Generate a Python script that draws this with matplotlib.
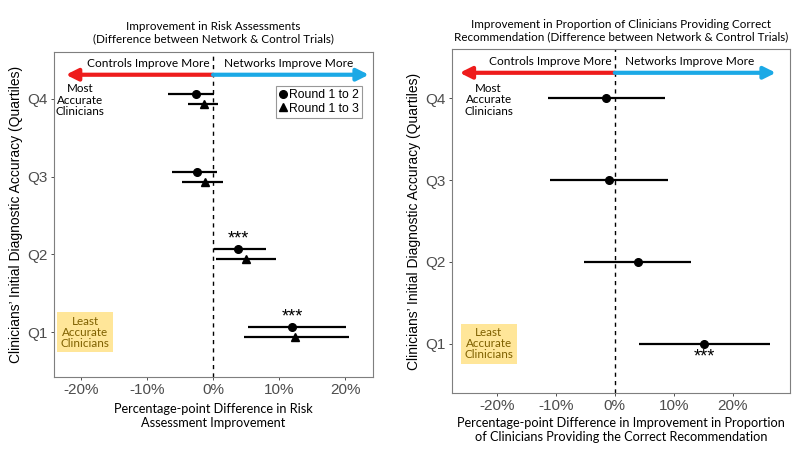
import numpy as np
import matplotlib
matplotlib.use("Agg")
import matplotlib.pyplot as plt

# --- data ---
quartiles = [1, 2, 3, 4]
q_labels = ["Q1", "Q2", "Q3", "Q4"]

# left panel: risk assessments (percentage points)
risk_r12 = [12.0, 3.8, -2.4, -2.6]
risk_r12_lo = [5.3, 0.1, -6.2, -6.8]
risk_r12_hi = [20.1, 8.0, 0.6, 0.2]
risk_r13 = [12.4, 5.0, -1.2, -1.4]
risk_r13_lo = [4.7, 0.5, -4.7, -3.8]
risk_r13_hi = [20.6, 9.5, 1.5, 0.7]
risk_sig = [True, True, False, False]

# right panel: correct recommendation (percentage points)
rec_est = [15.1, 3.9, -1.0, -1.5]
rec_lo = [4.1, -5.3, -11.0, -11.4]
rec_hi = [26.3, 12.9, 9.0, 8.5]
rec_sig = [True, False, False, False]

x_ticks = [-20, -10, 0, 10, 20]

TXT = "Lato"
TICK = "Liberation Sans"
RED = "#EE1C1C"
BLUE = "#1BA9E6"
BOX = "#FFE699"
BOXTXT = "#7F6000"


def style_axis(ax, xlim, ylim):
    ax.set_xlim(*xlim)
    ax.set_ylim(*ylim)
    ax.set_yticks(quartiles)
    ax.set_yticklabels(q_labels)
    ax.set_xticks(x_ticks)
    ax.set_xticklabels([f"{t}%" for t in x_ticks])
    for lab in ax.get_xticklabels() + ax.get_yticklabels():
        lab.set_fontfamily(TICK)
        lab.set_fontsize(11)
        lab.set_color("#4D4D4D")
    ax.tick_params(axis="both", length=2.5, width=0.6, color="#333333", pad=2)
    for sp in ax.spines.values():
        sp.set_color("#7F7F7F")
        sp.set_linewidth(0.8)
    ax.axvline(0, color="black", linestyle=(0, (3, 3)), linewidth=1.0, zorder=1)
    ax.set_ylabel("Clinicians\u2019 Initial Diagnostic Accuracy (Quartiles)",
                  fontfamily=TICK, fontsize=10, labelpad=3)


def direction_arrows(ax, left_end, right_end, left_txt_x, right_txt_x):
    y = 4.31
    ax.annotate("", xy=(left_end, y), xytext=(0, y),
                arrowprops=dict(arrowstyle="-|>,head_length=0.7,head_width=0.35",
                                color=RED, lw=3, shrinkA=0, shrinkB=0))
    ax.annotate("", xy=(right_end, y), xytext=(0, y),
                arrowprops=dict(arrowstyle="-|>,head_length=0.7,head_width=0.35",
                                color=BLUE, lw=3, shrinkA=0, shrinkB=0))
    ax.text(left_txt_x, 4.45, "Controls Improve More", ha="center", va="center",
            fontfamily=TXT, fontsize=8.6)
    ax.text(right_txt_x, 4.45, "Networks Improve More", ha="center", va="center",
            fontfamily=TXT, fontsize=8.6)


def group_labels(ax, x_most, x_least):
    ax.text(x_most, 3.98, "Most\nAccurate\nClinicians", ha="center", va="center",
            fontfamily=TXT, fontsize=8.4, linespacing=1.05)
    ax.text(x_least, 1.0, "Least\nAccurate\nClinicians", ha="center", va="center",
            fontfamily=TXT, fontsize=8.4, linespacing=1.0, color=BOXTXT,
            bbox=dict(boxstyle="square,pad=0.3", facecolor=BOX, edgecolor="none"))


fig = plt.figure(figsize=(8, 4.5), dpi=100)
ax1 = fig.add_axes([0.0675, 0.162, 0.3985, 0.722])
ax2 = fig.add_axes([0.565, 0.127, 0.4225, 0.764])

# ---- left panel ----
style_axis(ax1, (-24.1, 24.2), (0.42, 4.6))
dodge = 0.065
y12 = np.array(quartiles) + dodge
y13 = np.array(quartiles) - dodge
e12 = [np.array(risk_r12) - np.array(risk_r12_lo), np.array(risk_r12_hi) - np.array(risk_r12)]
e13 = [np.array(risk_r13) - np.array(risk_r13_lo), np.array(risk_r13_hi) - np.array(risk_r13)]
ax1.errorbar(risk_r12, y12, xerr=e12, fmt="o", color="black", ms=5.5,
             elinewidth=1.6, capsize=0, label="Round 1 to 2", zorder=3)
ax1.errorbar(risk_r13, y13, xerr=e13, fmt="^", color="black", ms=6,
             elinewidth=1.6, capsize=0, label="Round 1 to 3", zorder=3)
for q, est, s in zip(quartiles, risk_r12, risk_sig):
    if s:
        ax1.text(est, q + dodge + 0.02, "***", ha="center", va="bottom",
                 fontfamily=TICK, fontsize=13)
direction_arrows(ax1, -22.3, 23.6, -9.8, 11.4)
group_labels(ax1, -20.2, -19.4)
handles, labels = ax1.get_legend_handles_labels()
handles = [h[0] for h in handles]
leg = ax1.legend(handles, labels, loc="upper right", bbox_to_anchor=(0.966, 0.895),
                 frameon=True, fancybox=False, edgecolor="#7F7F7F", handlelength=0.6,
                 handletextpad=0.2, borderpad=0.25, labelspacing=0.1,
                 borderaxespad=0, prop={"family": TICK, "size": 8.8})
leg.get_frame().set_linewidth(0.8)
ax1.set_title("Improvement in Risk Assessments\n(Difference between Network & Control Trials)",
              fontfamily=TXT, fontsize=8.4, pad=7, linespacing=1.2)
ax1.set_xlabel("Percentage-point Difference in Risk\nAssessment Improvement",
               fontfamily=TXT, fontsize=9.2, labelpad=4, linespacing=1.2)

# ---- right panel ----
style_axis(ax2, (-27.6, 29.7), (0.4, 4.6))
er = [np.array(rec_est) - np.array(rec_lo), np.array(rec_hi) - np.array(rec_est)]
ax2.errorbar(rec_est, quartiles, xerr=er, fmt="o", color="black", ms=5.5,
             elinewidth=1.6, capsize=0, zorder=3)
for q, est, s in zip(quartiles, rec_est, rec_sig):
    if s:
        ax2.text(est, q - 0.06, "***", ha="center", va="top",
                 fontfamily=TICK, fontsize=13)
direction_arrows(ax2, -26.3, 27.3, -11.0, 12.7)
group_labels(ax2, -21.4, -21.4)
ax2.set_title("Improvement in Proportion of Clinicians Providing Correct\n"
              "Recommendation (Difference between Network & Control Trials)",
              fontfamily=TXT, fontsize=8.4, pad=6, linespacing=1.2)
ax2.set_xlabel("Percentage-point Difference in Improvement in Proportion\n"
               "of Clinicians Providing the Correct Recommendation",
               fontfamily=TXT, fontsize=9.2, labelpad=3, linespacing=1.15)

fig.savefig("out.png", dpi=100, facecolor="white")
